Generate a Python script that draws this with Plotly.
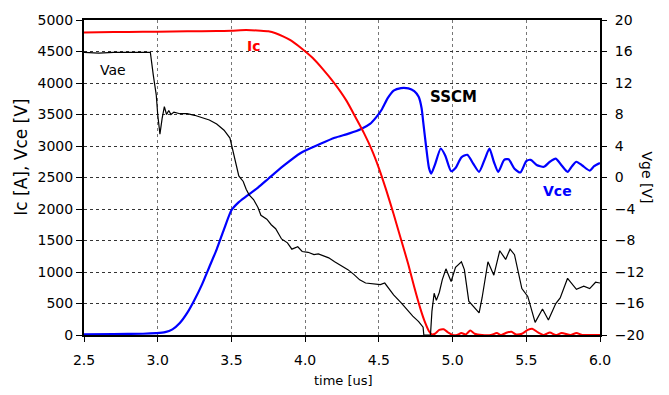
import plotly.graph_objects as go

# ---- data ----
t_ic = [2.5, 2.6, 2.8, 3.0, 3.2, 3.4, 3.5, 3.6, 3.7, 3.75, 3.8, 3.85, 3.9, 3.97, 4.05, 4.12, 4.2, 4.28,
        4.35, 4.4, 4.45, 4.5, 4.55, 4.6, 4.65, 4.7, 4.74, 4.78, 4.81, 4.84, 4.86, 4.88, 4.91, 4.94, 4.97,
        5.0, 5.03, 5.06, 5.09, 5.12, 5.15, 5.2, 5.26, 5.3, 5.33, 5.37, 5.4, 5.43, 5.47, 5.51, 5.54,
        5.58, 5.62, 5.66, 5.7, 5.74, 5.8, 5.84, 5.88, 5.92, 6.0]
ic = [4800, 4805, 4810, 4815, 4820, 4825, 4830, 4840, 4830, 4820, 4790, 4740, 4680, 4560, 4400, 4220,
      3990, 3720, 3420, 3200, 2950, 2650, 2300, 1920, 1520, 1120, 760, 430, 220, 60, 10, 20, 80, 90,
      40, 0, 0, 30, 10, 70, 20, 0, 0, 30, 0, 40, 50, 10, 20, 80, 100, 40, 0, 40, 0, 30, 0, 30, 0, 0, 0]

t_vce = [2.5, 2.7, 2.9, 2.99, 3.05, 3.1, 3.15, 3.2, 3.25, 3.3, 3.35, 3.4, 3.45, 3.5, 3.55, 3.6, 3.68,
         3.75, 3.85, 3.97, 4.1, 4.2, 4.3, 4.38, 4.44, 4.48, 4.52, 4.56, 4.6, 4.65, 4.7, 4.74, 4.77,
         4.79, 4.8, 4.82, 4.84, 4.855, 4.88, 4.92, 4.95, 4.99, 5.02, 5.06, 5.1, 5.14, 5.18, 5.22,
         5.25, 5.28, 5.31, 5.35, 5.38, 5.42, 5.46, 5.5, 5.53, 5.57, 5.62, 5.66, 5.7, 5.74, 5.78, 5.81,
         5.84, 5.88, 5.93, 5.96, 6.0]
vce = [10, 15, 20, 30, 45, 90, 190, 350, 560, 800, 1080, 1360, 1680, 1980, 2110, 2200, 2340, 2480,
       2680, 2890, 3030, 3130, 3200, 3270, 3350, 3450, 3580, 3760, 3880, 3920, 3915, 3870, 3780,
       3600, 3400, 3000, 2650, 2560, 2700, 2960, 2850, 2600, 2650, 2820, 2860, 2720, 2590, 2800,
       2960, 2750, 2590, 2780, 2790, 2640, 2580, 2760, 2780, 2700, 2670, 2750, 2800, 2690, 2590,
       2680, 2750, 2690, 2610, 2680, 2730]

t_vge = [2.5, 2.6, 2.7, 2.8, 2.9, 2.95, 2.97, 2.99, 3.0, 3.015, 3.03, 3.045, 3.06, 3.075, 3.09, 3.11,
         3.15, 3.2, 3.25, 3.3, 3.35, 3.4, 3.45, 3.49, 3.51, 3.53, 3.55, 3.58, 3.6, 3.62, 3.65, 3.68,
         3.7, 3.74, 3.77, 3.8, 3.84, 3.88, 3.91, 3.95, 3.98, 4.02, 4.06, 4.09, 4.12, 4.16, 4.2, 4.25,
         4.29, 4.33, 4.37, 4.41, 4.46, 4.51, 4.54, 4.57, 4.6, 4.65, 4.69, 4.73, 4.77, 4.8, 4.805,
         4.85, 4.86, 4.875, 4.89, 4.91, 4.93, 4.955, 4.99, 5.02, 5.06, 5.08, 5.11, 5.15, 5.18, 5.2,
         5.24, 5.28, 5.32, 5.36, 5.39, 5.42, 5.44, 5.47, 5.51, 5.56, 5.61, 5.65, 5.7, 5.73, 5.78,
         5.84, 5.89, 5.93, 5.97, 6.0]
vge = [15.9, 15.8, 15.9, 15.9, 15.95, 15.9, 13.0, 10.5, 8.0, 5.5, 7.5, 9.0, 8.0, 8.5, 8.0, 8.3, 8.1,
       8.1, 7.9, 7.6, 7.3, 6.8, 6.0, 5.0, 3.5, 2.0, 0.2, -0.5, -1.5, -2.2, -2.8, -3.8, -4.8, -5.3,
       -6.0, -6.5, -7.8, -8.3, -9.1, -8.8, -9.4, -9.5, -9.8, -9.7, -9.9, -10.2, -10.7, -11.3, -11.7,
       -12.3, -13.0, -13.4, -13.5, -13.6, -13.4, -14.1, -14.9, -15.9, -16.8, -17.6, -18.3, -19.0,
       -20.0, -20.0, -17.0, -14.7, -15.6, -14.6, -13.0, -11.6, -13.2, -11.4, -10.7, -11.7, -15.7,
       -16.5, -17.2, -15.3, -10.7, -12.4, -9.3, -10.4, -9.1, -9.8, -11.6, -14.1, -15.1, -18.4,
       -16.7, -18.1, -16.0, -15.3, -12.8, -14.2, -13.8, -14.1, -13.3, -13.4]

left_ticks = list(range(0, 5001, 500))
right_ticks = list(range(-20, 21, 4))
x_ticks = [2.5, 3.0, 3.5, 4.0, 4.5, 5.0, 5.5, 6.0]
x_labels = ["2.5", "3.0", "3.5", "4.0", "4.5", "5.0", "5.5", "6.0"]

FONT = "DejaVu Sans"

fig = go.Figure()
fig.add_trace(go.Scatter(x=t_vge, y=vge, yaxis="y2", mode="lines",
                         line=dict(color="black", width=1.2), showlegend=False))
fig.add_trace(go.Scatter(x=t_vce, y=vce, mode="lines",
                         line=dict(color="#0000ff", width=2.2, shape="spline", smoothing=0.6),
                         showlegend=False))
fig.add_trace(go.Scatter(x=t_ic, y=ic, mode="lines",
                         line=dict(color="#ff0000", width=2, shape="spline", smoothing=0.6),
                         showlegend=False))

fig.update_layout(
    width=669, height=395,
    margin=dict(l=84, r=69, t=12, b=60),
    paper_bgcolor="white", plot_bgcolor="white",
    font=dict(family=FONT, size=14, color="black"),
    xaxis=dict(range=[2.5, 6.0], tickvals=x_ticks, ticktext=x_labels,
               showgrid=True, gridcolor="#777", griddash="dot", gridwidth=1,
               showline=True, linecolor="black", linewidth=2, mirror=True,
               ticks="outside", ticklen=5, tickcolor="black", zeroline=False,
               ticklabelstandoff=6),
    yaxis=dict(range=[0, 5000], tickvals=left_ticks,
               showgrid=True, gridcolor="#333", griddash="dot", gridwidth=1,
               showline=True, linecolor="black", linewidth=2, mirror=True,
               ticks="outside", ticklen=6, tickcolor="black", zeroline=False),
    yaxis2=dict(range=[-20, 20], tickvals=right_ticks, overlaying="y", side="right",
                showgrid=False, showline=True, linecolor="black", linewidth=2,
                ticks="outside", ticklen=5, tickcolor="black", zeroline=False,
                ticklabelstandoff=5),
    annotations=[
        dict(text="Vae", x=2.70, y=4211, xref="x", yref="y", showarrow=False,
             font=dict(family=FONT, size=14, color="black")),
        dict(text="<b>Ic</b>", x=3.65, y=4582, xref="x", yref="y", showarrow=False,
             font=dict(family=FONT, size=14, color="#ff0000")),
        dict(text="<b>SSCM</b>", x=5.007, y=3777, xref="x", yref="y", showarrow=False,
             font=dict(family=FONT, size=15, color="black")),
        dict(text="<b>Vce</b>", x=5.71, y=2291, xref="x", yref="y", showarrow=False,
             font=dict(family=FONT, size=14, color="#0000ff")),
        dict(text="time [us]", x=0.502, y=-0.1455, xref="paper", yref="paper",
             showarrow=False, xanchor="center", yanchor="middle",
             font=dict(family=FONT, size=13)),
        dict(text="Ic [A], Vce [V]", x=-0.122, y=0.563, xref="paper", yref="paper",
             showarrow=False, textangle=-90, xanchor="center", yanchor="middle",
             font=dict(family=FONT, size=17)),
        dict(text="Vge [V]", x=1.093, y=0.5, xref="paper", yref="paper",
             showarrow=False, textangle=90, xanchor="center", yanchor="middle",
             font=dict(family=FONT, size=14)),
    ],
)

fig.write_html("out.html")
